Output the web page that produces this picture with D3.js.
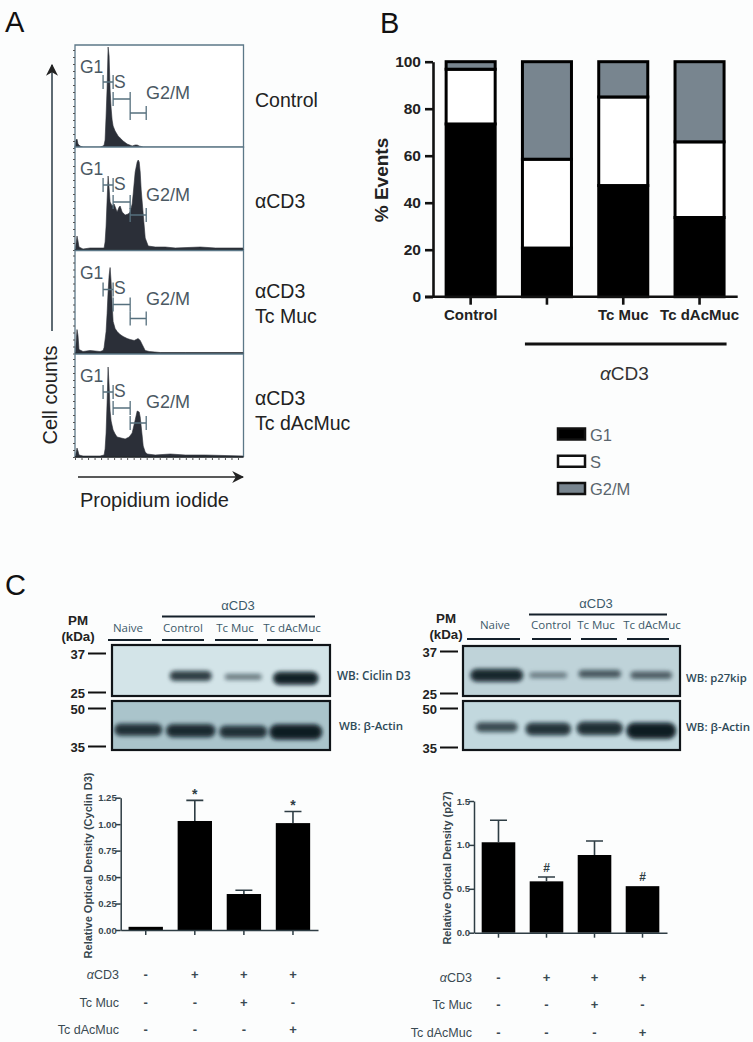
<!DOCTYPE html>
<html>
<head>
<meta charset="utf-8">
<script src="https://cdn.jsdelivr.net/npm/d3@7"></script>
<style>
body { margin: 0; background: #fcfdfd; }
svg { display: block; font-family: "Liberation Sans", Arial, sans-serif; }
</style>
</head>
<body>
<script>
// panel A: flow cytometry histograms, [channel, count]
var controlHist = [[0,0],[1,8],[2,9],[3,4],[5,2],[8,1],[15,1],[25,1],[28,2],[29,3],[30,8],[31,32],[32,60],[33,101],[34,92],[35,58],[36,40],[37,28],[38,22],[40,17],[43,12],[45,10],[48,7],[52,4],[57,2],[60,3],[62,3],[64,2],[68,1],[75,1],[100,1],[130,1],[168,1]];
var cd3Hist = [[0,0],[1,6],[2,14],[3,9],[4,3],[8,1],[15,2],[25,2],[29,2],[30,8],[31,24],[32,50],[33,74],[34,62],[35,48],[37,44],[39,46],[42,38],[44,43],[45,44],[47,38],[50,35],[53,36],[55,38],[57,46],[58,56],[60,78],[62,88],[63,90],[64,88],[65,78],[66,60],[68,36],[70,12],[73,4],[80,3],[90,3],[100,2],[125,3],[140,2],[168,2]];
var mucHist = [[0,0],[1,10],[2,24],[3,18],[4,4],[8,2],[15,3],[25,2],[28,3],[29,6],[31,22],[32,40],[33,62],[34,78],[35,86],[36,72],[37,50],[38,32],[40,25],[42,22],[45,19],[48,17],[52,15],[55,14],[59,13],[63,15],[65,13],[67,9],[70,3],[74,2],[85,1],[110,1],[168,1]];
var dacHist = [[0,0],[1,4],[2,9],[3,6],[4,2],[8,1],[15,1],[25,1],[29,2],[30,8],[31,24],[32,55],[33,90],[34,72],[35,46],[36,36],[38,27],[40,23],[42,20],[46,19],[50,18],[54,20],[57,24],[60,37],[62,46],[64,45],[65,40],[67,21],[68,11],[70,5],[72,3],[80,2],[95,3],[110,2],[130,2],[168,1]];
var histNames = [["Control"], ["αCD3"], ["αCD3", "Tc Muc"], ["αCD3", "Tc dAcMuc"]];

// panel B: cell cycle phases, percent of events
var phaseNames = ["G1", "S", "G2/M"];
var phaseCategories = ["Control", " ", "Tc Muc", "Tc dAcMuc"];
var g1Values = [73.5, 20.7, 47.3, 33.7];
var sValues = [23.3, 37.8, 37.7, 32.2];
var g2mValues = [3.2, 41.5, 15, 34.1];
var percentTicks = [0, 20, 40, 60, 80, 100];

// panel C: western blots, band density by lane
var laneNames = ["Naive", "Control", "Tc Muc", "Tc dAcMuc"];
var cyclinBlot = [0, 0.62, 0.15, 0.95];
var cyclinKda = [29, 29.4, 29.1, 28.7];
var actinBlotLeft = [0.72, 0.8, 0.72, 1];
var actinKdaLeft = [40.8, 40.4, 40, 39.9];
var p27Blot = [0.85, 0.1, 0.35, 0.3];
var p27Kda = [29.5, 29.5, 29.9, 29.5];
var actinBlotRight = [0.45, 0.7, 0.75, 1];
var actinKdaRight = [42, 41.3, 41.5, 40.6];

// panel C: densitometry
var cyclinValues = [0.03, 1.03, 0.34, 1.01];
var cyclinErrors = [0, 0.195, 0.035, 0.11];
var cyclinMarks = ["", "*", "", "*"];
var cyclinTicks = [0, 0.25, 0.5, 0.75, 1, 1.25];
var p27Values = [1.03, 0.585, 0.885, 0.53];
var p27Errors = [0.25, 0.05, 0.16, 0];
var p27Marks = ["", "#", "", "#"];
var p27Ticks = [0, 0.5, 1, 1.5];
var rowNames = ["CD3", "Tc Muc", "Tc dAcMuc"];
var cd3Signs = ["-", "+", "+", "+"];
var mucSigns = ["-", "-", "+", "-"];
var dacSigns = ["-", "-", "-", "+"];

var svg = d3.select("body").append("svg")
    .attr("width", 753)
    .attr("height", 1042);

var defs = svg.append("defs");
defs.append("filter").attr("id", "soft")
    .attr("x", "-30%").attr("y", "-100%").attr("width", "160%").attr("height", "300%")
    .append("feGaussianBlur").attr("stdDeviation", 2);
var marker = defs.append("marker").attr("id", "head")
    .attr("viewBox", "0 0 10 10").attr("refX", 9).attr("refY", 5)
    .attr("markerWidth", 12).attr("markerHeight", 12).attr("markerUnits", "userSpaceOnUse")
    .attr("orient", "auto");
marker.append("path").attr("d", "M0,0L10,5L0,10L3,5Z").attr("fill", "#222");

function label(parent, x, y, str, size, opts) {
    opts = opts || {};
    return parent.append("text")
        .attr("x", x).attr("y", y)
        .attr("font-size", size)
        .attr("font-weight", opts.weight || "normal")
        .attr("font-family", opts.family || null)
        .attr("text-anchor", opts.anchor || "start")
        .attr("fill", opts.fill || "#222")
        .text(str);
}

label(svg, 5, 32, "A", 29, {fill: "#111"});
label(svg, 380, 33, "B", 29, {fill: "#111"});
label(svg, 5, 595, "C", 29, {fill: "#111"});

// ---- panel A ----
var histX = d3.scaleLinear().domain([0, 168]).range([75, 243.5]);
var histTops = [45, 147, 250.5, 354];
var gateY = [[37, 54, 68], [38, 55, 68], [39, 54, 68], [38, 54, 69]];
var gateX = [[28, 38], [38, 55], [55, 71]];
var gateColor = "#56707e";

[controlHist, cd3Hist, mucHist, dacHist].forEach(function(hist, i) {
    var top = histTops[i];
    var bottom = top + 103;
    var histY = d3.scaleLinear().domain([0, 103]).range([bottom, top]);
    var g = svg.append("g");

    g.append("rect")
        .attr("x", histX(0)).attr("y", top)
        .attr("width", histX(168) - histX(0)).attr("height", 103)
        .attr("fill", "#fff");

    var area = d3.area()
        .x(function(d) { return histX(d[0]); })
        .y0(bottom)
        .y1(function(d) { return histY(d[1]); });
    g.append("path").datum(hist)
        .attr("fill", "#2b2f38").attr("stroke", "#2b2f38").attr("stroke-width", 0.6)
        .attr("d", area);

    // side frame plus top line, baseline is darker
    g.append("path")
        .attr("d", "M" + histX(0) + "," + bottom + "V" + top + "H" + histX(168) + "V" + bottom)
        .attr("fill", "none").attr("stroke", "#5c7888").attr("stroke-width", 1.3);
    g.append("line")
        .attr("x1", histX(0)).attr("x2", histX(168))
        .attr("y1", bottom).attr("y2", bottom)
        .attr("stroke", "#23282c").attr("stroke-width", 1.6);

    var yAxis = d3.axisLeft(histY).tickValues(d3.range(0, 103, 7)).tickSize(2).tickFormat("");
    var ax = g.append("g").attr("transform", "translate(" + histX(0) + ",0)").call(yAxis);
    ax.select(".domain").remove();
    ax.selectAll("line").attr("stroke", "#555");

    // gates
    gateX.forEach(function(gx, k) {
        var y = top + gateY[i][k];
        var x0 = histX(gx[0]), x1 = histX(gx[1]);
        g.append("path")
            .attr("d", "M" + x0 + "," + (y - 7) + "V" + (y + 7) + "M" + x0 + "," + y + "H" + x1 + "M" + x1 + "," + (y - 7) + "V" + (y + 7))
            .attr("fill", "none").attr("stroke", gateColor).attr("stroke-width", 1.3);
    });

    label(g, 80, top + 28, "G1", 17.5, {fill: "#4b5963"});
    label(g, 114, top + 43, "S", 17.5, {fill: "#4b5963"});
    label(g, 146, top + 54, "G2/M", 18, {fill: "#4b5963"});

    var nameY = [107, 208, 298, 405];
    histNames[i].forEach(function(n, k) {
        label(svg, 255, nameY[i] + k * 24.5, n, 19.5);
    });
});

var histAxis = d3.axisBottom(histX).tickValues(d3.range(0, 169, 6.5)).tickSize(3).tickFormat("");
var hb = svg.append("g").attr("transform", "translate(0,457)").call(histAxis);
hb.select(".domain").remove();
hb.selectAll("line").attr("stroke", "#555");

svg.append("line").attr("x1", 52).attr("x2", 52).attr("y1", 331).attr("y2", 65)
    .attr("stroke", "#2a3a45").attr("stroke-width", 1.5).attr("marker-end", "url(#head)");
svg.append("line").attr("x1", 78).attr("x2", 243).attr("y1", 477).attr("y2", 477)
    .attr("stroke", "#222").attr("stroke-width", 1.5).attr("marker-end", "url(#head)");
label(svg, 0, 0, "Cell counts", 20, {anchor: "middle"})
    .attr("transform", "translate(57,395) rotate(-90)");
label(svg, 80, 507, "Propidium iodide", 20);

// ---- panel B ----
var stackRows = phaseCategories.map(function(c, i) {
    return {category: c, "G1": g1Values[i], "S": sValues[i], "G2/M": g2mValues[i]};
});
var phaseFill = d3.scaleOrdinal().domain(phaseNames).range(["#000", "#fff", "#78858f"]);
var bx = d3.scaleBand().domain(phaseCategories).range([432.5, 737.7])
    .paddingInner(0.318).paddingOuter(0.159);
var by = d3.scaleLinear().domain([0, 100]).range([296.7, 61.7]);
var stacked = d3.stack().keys(phaseNames)(stackRows);

var bChart = svg.append("g");
bChart.selectAll("g.phase").data(stacked).enter().append("g")
    .attr("class", "phase")
    .attr("fill", function(d) { return phaseFill(d.key); })
    .selectAll("rect").data(function(d) { return d; }).enter().append("rect")
    .attr("x", function(d) { return bx(d.data.category) + 1.5; })
    .attr("width", bx.bandwidth() - 3)
    .attr("y", function(d) { return by(d[1]); })
    .attr("height", function(d) { return by(d[0]) - by(d[1]); })
    .attr("stroke", "#000").attr("stroke-width", 3);

var bYAxis = d3.axisLeft(by).tickValues(percentTicks).tickSize(8).tickSizeOuter(0);
var bya = bChart.append("g").attr("transform", "translate(433,0)").call(bYAxis);
bya.selectAll("path,line").attr("stroke", "#111").attr("stroke-width", 2.6);
bya.selectAll("text").attr("font-size", 15.5).attr("font-weight", "bold").attr("fill", "#222")
    .attr("font-family", "Liberation Sans").attr("dx", -1);

var bXAxis = d3.axisBottom(bx).tickSize(8).tickSizeOuter(0);
var bxa = bChart.append("g").attr("transform", "translate(0,296.7)").call(bXAxis);
bxa.selectAll("path,line").attr("stroke", "#111").attr("stroke-width", 2.6);
bxa.select(".domain").attr("d", "M425,0H737.7");
bxa.selectAll("text").attr("font-size", 15).attr("font-weight", "bold").attr("fill", "#222")
    .attr("font-family", "Liberation Sans").attr("y", 23).attr("dy", 0);

label(svg, 0, 0, "% Events", 19, {weight: "bold", anchor: "middle", fill: "#222"})
    .attr("transform", "translate(388,180) rotate(-90)");
svg.append("line").attr("x1", bx(" ") + 4).attr("x2", bx("Tc dAcMuc") + bx.bandwidth() + 1)
    .attr("y1", 344).attr("y2", 344).attr("stroke", "#111").attr("stroke-width", 2.8);
var cd3Text = label(svg, 600, 380, "", 19, {fill: "#333"});
cd3Text.append("tspan").attr("font-style", "italic").text("α");
cd3Text.append("tspan").text("CD3");

var legY = d3.scalePoint().domain(phaseNames).range([434, 488.5]);
phaseNames.forEach(function(p) {
    svg.append("rect")
        .attr("x", 558).attr("y", legY(p) - 5.5)
        .attr("width", 27).attr("height", 11)
        .attr("fill", phaseFill(p)).attr("stroke", "#111").attr("stroke-width", 2.5);
    label(svg, 590, legY(p) + 6.5, p, 16.5, {fill: "#5a656d"});
});

// ---- panel C blots ----
function drawBlot(conf) {
    var g = svg.append("g");
    var y = d3.scaleLog().domain(conf.kda).range(conf.kdaY);
    var lane = d3.scaleBand().domain(laneNames).range(conf.lanes);
    var thick = d3.scaleLinear().domain([0, 1]).range([2.5, conf.maxThick]);
    var wide = d3.scaleLinear().domain([0, 1]).range([36, conf.maxWide]);
    g.append("rect")
        .attr("x", conf.x).attr("y", conf.y)
        .attr("width", conf.w).attr("height", conf.h)
        .attr("fill", conf.fill).attr("stroke", "#101418").attr("stroke-width", 2.2);
    var bands = g.append("g");
    laneNames.forEach(function(n, i) {
        var d = conf.density[i];
        if (d === 0) return;
        var cx = lane(n) + lane.bandwidth() / 2;
        var cy = y(conf.bandKda[i]);
        var t = thick(d), w = wide(d);
        // wide halo then a sharper core
        bands.append("rect")
            .attr("x", cx - w / 2).attr("y", cy - t / 2 - 1.5)
            .attr("width", w).attr("height", t + 3).attr("rx", (t + 3) / 2)
            .attr("fill", "#31444f").attr("opacity", 0.3 + d * 0.35)
            .attr("filter", "url(#soft)");
        bands.append("rect")
            .attr("x", cx - w / 2 + 1).attr("y", cy - t / 2)
            .attr("width", w - 2).attr("height", t).attr("rx", t / 2)
            .attr("fill", "#0f1a21").attr("opacity", 0.3 + d * 0.7)
            .attr("filter", "url(#soft)");
    });
    // molecular weight markers
    var ax = d3.axisLeft(y).tickValues(conf.kda).tickSize(conf.tick).tickFormat(d3.format("d"));
    var a = g.append("g").attr("transform", "translate(" + conf.tickX + ",0)").call(ax);
    a.select(".domain").remove();
    a.selectAll("line").attr("stroke", "#111").attr("stroke-width", 2);
    a.selectAll("text").attr("font-size", 13).attr("font-weight", "bold").attr("fill", "#222")
        .attr("font-family", "Liberation Sans").attr("dy", 5);
    label(g, conf.wbX, conf.wbY, conf.wb, conf.wbSize, {family: "Open Sans", weight: 600, fill: "#2e4a58"});
}

drawBlot({x: 112, y: 645, w: 218, h: 51, fill: "#d3e4e8", kda: [37, 25], kdaY: [653, 692], lanes: [112, 322],
    density: cyclinBlot, bandKda: cyclinKda, maxThick: 11, maxWide: 46, tick: 18, tickX: 106, wb: "WB: Ciclin D3", wbSize: 11.7, wbX: 337, wbY: 680});
drawBlot({x: 112, y: 701, w: 218, h: 49, fill: "#aac4cb", kda: [50, 35], kdaY: [708, 746], lanes: [112, 322],
    density: actinBlotLeft, bandKda: actinKdaLeft, maxThick: 13, maxWide: 53, tick: 18, tickX: 106, wb: "WB: β-Actin", wbSize: 11.5, wbX: 339, wbY: 730});
drawBlot({x: 463, y: 646, w: 217, h: 50, fill: "#bfd3d9", kda: [37, 25], kdaY: [651, 693], lanes: [471, 677],
    density: p27Blot, bandKda: p27Kda, maxThick: 12, maxWide: 56, tick: 18, tickX: 458, wb: "WB: p27kip", wbSize: 11.3, wbX: 686, wbY: 682});
drawBlot({x: 463, y: 701, w: 217, h: 49, fill: "#c2d8de", kda: [50, 35], kdaY: [708, 747], lanes: [471, 677],
    density: actinBlotRight, bandKda: actinKdaRight, maxThick: 14, maxWide: 50, tick: 18, tickX: 458, wb: "WB: β-Actin", wbSize: 11.5, wbX: 686, wbY: 731});

function blotHeader(conf) {
    var g = svg.append("g");
    label(g, conf.pmX, conf.pmY, "PM", 13.3, {weight: "bold", anchor: "middle"});
    label(g, conf.pmX, conf.pmY + 16, "(kDa)", 13.3, {weight: "bold", anchor: "middle"});
    laneNames.forEach(function(n, i) {
        label(g, conf.textX[i], conf.textY, n, 11.5, {anchor: "middle", family: "Open Sans", fill: "#3c5a6a"});
        g.append("line").attr("x1", conf.under[i][0]).attr("x2", conf.under[i][1])
            .attr("y1", conf.underY).attr("y2", conf.underY)
            .attr("stroke", "#14202a").attr("stroke-width", 2);
    });
    label(g, conf.cd3X, conf.cd3Y, "αCD3", 13, {anchor: "middle", fill: "#3c5a6a"});
    g.append("line").attr("x1", conf.over[0]).attr("x2", conf.over[1])
        .attr("y1", conf.cd3Y + 6.5).attr("y2", conf.cd3Y + 6.5)
        .attr("stroke", "#14202a").attr("stroke-width", 2);
}

blotHeader({pmX: 78, pmY: 625, textX: [128, 183, 235, 292], textY: 632, underY: 640,
    under: [[108, 151], [162, 204], [215, 258], [267, 313]], cd3X: 238, cd3Y: 610, over: [162, 315]});
blotHeader({pmX: 446, pmY: 623, textX: [495, 551, 596, 652], textY: 629, underY: 639,
    under: [[467, 520], [532, 571], [581, 617], [627, 669]], cd3X: 596, cd3Y: 608, over: [529, 667]});

// ---- panel C bar charts ----
function drawBars(conf) {
    var g = svg.append("g");
    var x = d3.scaleBand().domain(d3.range(conf.values.length)).range(conf.xRange)
        .paddingInner(0.3).paddingOuter(0.16);
    var y = d3.scaleLinear().domain(conf.domain).range(conf.yRange);
    var ink = "#2e3d44";

    g.selectAll("rect.bar").data(conf.values).enter().append("rect")
        .attr("class", "bar")
        .attr("x", function(d, i) { return x(i); })
        .attr("width", x.bandwidth())
        .attr("y", function(d) { return y(d); })
        .attr("height", function(d) { return y(0) - y(d); })
        .attr("fill", "#000");

    conf.errors.forEach(function(e, i) {
        if (e === 0) return;
        var cx = x(i) + x.bandwidth() / 2;
        var top = y(conf.values[i] + e);
        g.append("path")
            .attr("d", "M" + cx + "," + y(conf.values[i]) + "V" + top + "M" + (cx - 8.5) + "," + top + "H" + (cx + 8.5))
            .attr("fill", "none").attr("stroke", ink).attr("stroke-width", 1.6);
    });

    conf.marks.forEach(function(m, i) {
        if (!m) return;
        var top = y(conf.values[i] + conf.errors[i]);
        label(g, x(i) + x.bandwidth() / 2, top - conf.markGap, m, conf.markSize, {weight: "bold", anchor: "middle", fill: "#2e3d44"});
    });

    var ya = g.append("g").attr("transform", "translate(" + conf.xRange[0] + ",0)")
        .call(d3.axisLeft(y).tickValues(conf.ticks).tickSize(5).tickSizeOuter(0).tickFormat(d3.format(conf.fmt)));
    ya.selectAll("path,line").attr("stroke", ink).attr("stroke-width", 1.5);
    ya.selectAll("text").attr("font-size", 9.5).attr("font-weight", "bold").attr("fill", "#37464e")
        .attr("font-family", "Liberation Sans").attr("x", -4);

    var xa = g.append("g").attr("transform", "translate(0," + y(0) + ")")
        .call(d3.axisBottom(x).tickSize(5).tickSizeOuter(0).tickFormat(""));
    xa.selectAll("path,line").attr("stroke", ink).attr("stroke-width", 1.5);

    label(g, 0, 0, conf.title, conf.titleSize, {weight: "bold", anchor: "middle", fill: "#37464e"})
        .attr("transform", "translate(" + conf.titleX + "," + conf.titleY + ") rotate(-90)");

    // treatment table under the bars
    [cd3Signs, mucSigns, dacSigns].forEach(function(row, r) {
        var rowText = label(g, conf.rowX, conf.rowY[r], "", 12.5, {anchor: "end", fill: "#3a4a52"});
        if (r === 0) rowText.append("tspan").attr("font-style", "italic").text("α");
        rowText.append("tspan").text(rowNames[r]);
        row.forEach(function(s, i) {
            label(g, x(i) + x.bandwidth() / 2, conf.rowY[r] - 0.5, s, 13, {anchor: "middle", weight: "bold", fill: "#3a4a52"});
        });
    });
}

drawBars({values: cyclinValues, errors: cyclinErrors, marks: cyclinMarks, ticks: cyclinTicks, fmt: ".2f",
    domain: [0, 1.25], xRange: [120.7, 318], yRange: [930, 797.7],
    title: "Relative Optical Density (Cyclin D3)", titleSize: 11, titleX: 92, titleY: 865.5,
    rowX: 119, rowY: [979, 1007, 1034], markGap: 1, markSize: 14});
drawBars({values: p27Values, errors: p27Errors, marks: p27Marks, ticks: p27Ticks, fmt: ".1f",
    domain: [0, 1.5], xRange: [474, 667], yRange: [932.7, 801],
    title: "Relative Optical Density (p27)", titleSize: 10.9, titleX: 451, titleY: 868,
    rowX: 472, rowY: [982, 1009, 1037], markGap: 5, markSize: 12});
</script>
</body>
</html>
